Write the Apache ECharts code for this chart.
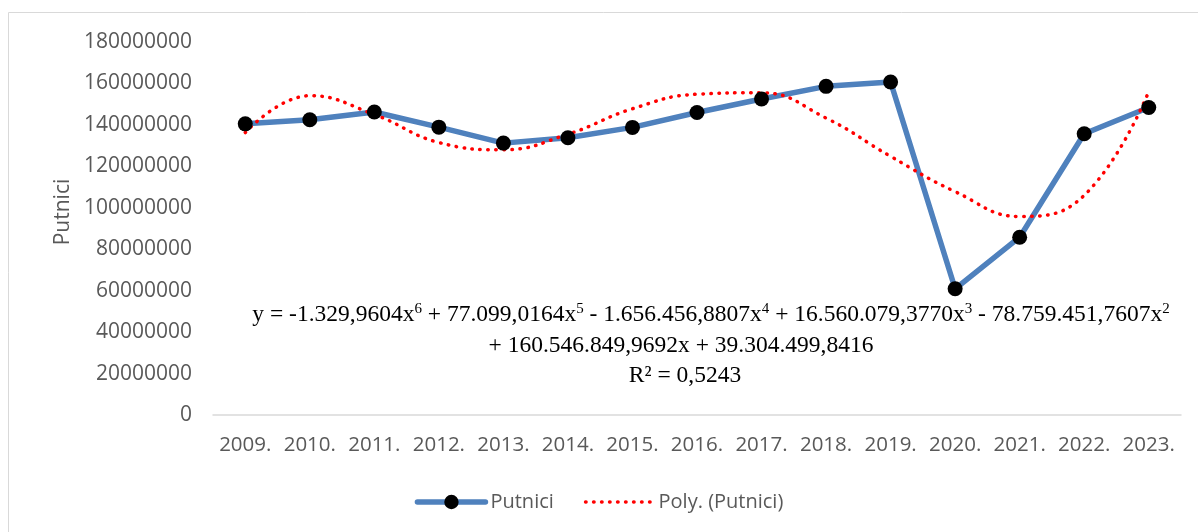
<!DOCTYPE html>
<html>
<head>
<meta charset="utf-8">
<script src="https://cdn.jsdelivr.net/npm/echarts@6/dist/echarts.min.js"></script>
<style>
  html, body { margin: 0; padding: 0; background: #fff; }
  #chart { width: 1198px; height: 532px; }
</style>
</head>
<body>
<div id="chart"></div>
<script>
// podaci sa slike
const years = ['2009.', '2010.', '2011.', '2012.', '2013.', '2014.', '2015.', '2016.',
  '2017.', '2018.', '2019.', '2020.', '2021.', '2022.', '2023.'];
const putnici = [140500000, 142500000, 146200000, 138900000, 131200000, 133800000, 138800000,
  146000000, 152500000, 158600000, 160700000, 60900000, 85800000, 135700000, 148400000];
// trend (polinom 6. reda) ocitan na svakoj godini
const polyPutnici = [136300000, 154100000, 145000000, 131500000, 128000000, 135500000, 147800000,
  154800000, 155500000, 143300000, 124800000, 107800000, 95800000, 106000000, 156100000];
const yTicks = { min: 0, max: 180000000, interval: 20000000 };

const eqLine1 = 'y = -1.329,9604x{s|6} + 77.099,0164x{s|5} - 1.656.456,8807x{s|4} + 16.560.079,3770x{s|3} - 78.759.451,7607x{s|2}';
const eqLine2 = '+ 160.546.849,9692x + 39.304.499,8416';
const eqLine3 = 'R² = 0,5243';

const grey = '#595959';
const sans = '"Open Sans", sans-serif';
const serif = '"Liberation Serif", "Times New Roman", serif';

let myChart = echarts.init(document.getElementById('chart'));

const eqText = (txt, x, y) => ({
  type: 'text',
  x: x, y: y,
  style: {
    text: txt,
    fill: '#000',
    font: '23.5px ' + serif,
    align: 'center',
    verticalAlign: 'middle',
    rich: {
      s: { fontSize: 15, fontFamily: serif, fill: '#000', verticalAlign: 'top', lineHeight: 26 }
    }
  },
  silent: true
});

myChart.setOption({
  animation: false,
  grid: { left: 213, right: 17, top: 42, bottom: 117, containLabel: false },
  legend: {
    bottom: 15,
    left: 'center',
    itemWidth: 68,
    itemHeight: 18,
    itemGap: 30,
    textStyle: { color: grey, fontSize: 20, fontFamily: sans },
    data: [
      { name: 'Putnici', lineStyle: { width: 5.5, color: '#4f81bd', cap: 'round' } },
      {
        name: 'Poly. (Putnici)',
        itemStyle: { opacity: 0 },
        lineStyle: { width: 3.5, color: '#ff0000', type: [0.5, 7.5], cap: 'round' }
      }
    ]
  },
  xAxis: {
    type: 'category',
    boundaryGap: true,
    data: years,
    axisLine: { lineStyle: { color: '#d9d9d9', width: 1.5 } },
    axisTick: { show: false },
    axisLabel: { color: grey, fontSize: 20.5, fontFamily: sans, margin: 20, interval: 0, hideOverlap: false }
  },
  yAxis: {
    type: 'value',
    min: yTicks.min,
    max: yTicks.max,
    interval: yTicks.interval,
    splitLine: { show: false },
    axisLine: { show: false },
    axisTick: { show: false },
    axisLabel: { color: grey, fontSize: 21, fontFamily: sans, margin: 21, formatter: v => String(v) }
  },
  graphic: [
    {
      type: 'rect',
      shape: { x: 8.5, y: 12.5, width: 1400, height: 700 },
      style: { fill: 'none', stroke: '#d9d9d9', lineWidth: 1 },
      silent: true
    },
    {
      type: 'text',
      x: 63, y: 212,
      rotation: Math.PI / 2,
      style: {
        text: 'Putnici', fill: grey, font: '21px ' + sans,
        align: 'center', verticalAlign: 'middle'
      },
      silent: true
    },
    eqText(eqLine1, 711, 315),
    eqText(eqLine2, 681, 346),
    eqText(eqLine3, 685, 376)
  ],
  series: [
    {
      name: 'Putnici',
      type: 'line',
      data: putnici,
      symbol: 'circle',
      symbolSize: 15,
      lineStyle: { color: '#4f81bd', width: 5.5, cap: 'round', join: 'round' },
      itemStyle: { color: '#000', borderWidth: 0 }
    },
    {
      name: 'Poly. (Putnici)',
      type: 'line',
      data: polyPutnici,
      smooth: 0.45,
      symbol: 'none',
      lineStyle: { color: '#ff0000', width: 3.5, type: [0.5, 7.5], cap: 'round' },
      itemStyle: { color: '#ff0000' }
    }
  ]
});
</script>
</body>
</html>
